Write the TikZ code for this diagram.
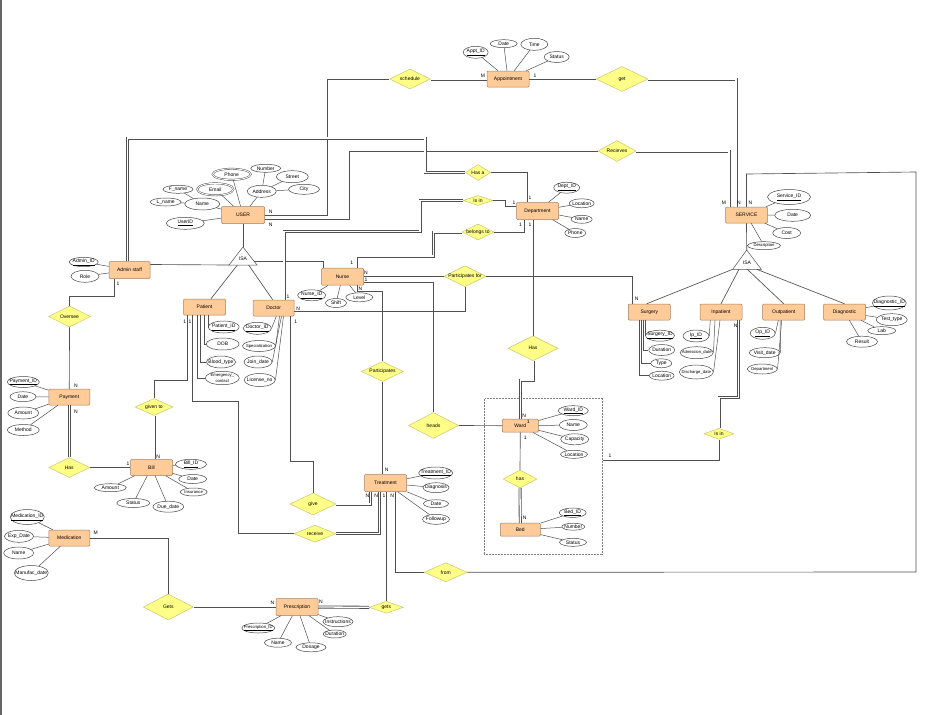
\documentclass[tikz,border=0pt]{standalone}
\usepackage{fontspec}
\setmainfont{Liberation Sans}
\usetikzlibrary{shapes.geometric,calc}
\definecolor{entfill}{RGB}{255,204,153}
\definecolor{entline}{RGB}{170,125,90}
\definecolor{relfill}{RGB}{255,255,136}
\definecolor{relline}{RGB}{200,200,110}
\definecolor{attline}{RGB}{70,70,70}
\definecolor{lnc}{RGB}{80,80,80}
\newcommand{\fs}{\fontsize{5}{6}\selectfont}
\newcommand{\fss}{\fontsize{4.2}{4.6}\selectfont}

\begin{document}
\begin{tikzpicture}[x=1pt,y=-1pt,
    zw/.style={execute at begin node={\hbox to 0pt\bgroup\hss}, execute at end node={\hss\egroup}},
    ent/.style={draw=entline,fill=entfill,rounded corners=1pt,line width=0.5pt,minimum width=42,minimum height=16,inner sep=0,font=\fs,zw},
    rel/.style 2 args={diamond,draw=relline,fill=relfill,line width=0.5pt,minimum width=#1,minimum height=#2,inner sep=0,font=\fs,zw},
    att/.style 2 args={ellipse,draw=attline,fill=white,line width=0.5pt,minimum width=#1,minimum height=#2,inner sep=0,font=\fs,zw},
    mv/.style={double,double distance=0.9pt,line width=0.45pt},
    ln/.style={draw=lnc,line width=0.65pt},
    dl/.style={draw=lnc,line width=0.85pt,double=white,double distance=1.3pt},
    aln/.style={draw=lnc,line width=0.5pt},
    card/.style={font=\fs,inner sep=0}]
  \fill[white] (0,0) rectangle (935,715);
  \useasboundingbox (0,0) rectangle (935,715);
  \draw[gray!80!black,line width=1.2pt] (1,0) -- (1,715);

  \node[draw=gray,densely dotted,line width=0.5pt,minimum width=118.4,minimum height=156,inner sep=0] (wbox) at (543.5,476.3) {};

  \node[ent] (appt) at (508,79) {Appointment};
  \node[ent,minimum width=43,minimum height=17] (user) at (243,215) {USER};
  \node[ent,minimum height=17] (dept) at (537.5,211) {Department};
  \node[ent] (serv) at (746.5,215) {SERVICE};
  \node[ent,minimum width=41,minimum height=17] (admin) at (129.5,270) {Admin staff};
  \node[ent] (patient) at (204.5,307) {Patient};
  \node[ent,minimum width=41] (doctor) at (273.7,308) {Doctor};
  \node[ent,minimum height=17] (nurse) at (342.5,276.7) {Nurse};
  \node[ent] (surgery) at (649.3,312) {Surgery};
  \node[ent] (inpat) at (721,312) {Inpatient};
  \node[ent] (outpat) at (783.7,312) {Outpatient};
  \node[ent] (diag) at (844.5,312) {Diagnostic};
  \node[ent,minimum width=41] (payment) at (69.3,397) {Payment};
  \node[ent] (bill) at (151.5,467.5) {Bill};
  \node[ent,minimum width=36,minimum height=13] (ward) at (520.3,425.7) {Ward};
  \node[ent,minimum width=40,minimum height=13] (bed) at (520.3,529.7) {Bed};
  \node[ent,minimum height=17] (treat) at (385.5,483) {Treatment};
  \node[ent,minimum width=41] (medic) at (69.3,538) {Medication};
  \node[ent,minimum height=17] (presc) at (297,607) {Prescription};

  \node[rel={41}{20}] (sched) at (410,79) {schedule};
  \node[rel={52}{25}] (get) at (622,79) {get};
  \node[rel={38}{21}] (recv) at (617,151) {Recieves};
  \node[rel={25}{16}] (hasa) at (478,172.5) {Has a};
  \node[rel={30}{10}] (isin1) at (478,200.5) {Is in};
  \node[rel={32}{16}] (belong) at (478,232) {belongs to};
  \node[rel={42}{21}] (partfor) at (465,276.3) {Participates for};
  \node[rel={50}{25}] (hasw) at (533,348.3) {Has};
  \node[rel={42}{20}] (part) at (382.5,371.5) {Participates};
  \node[rel={50}{26}] (heads) at (433.5,425.5) {heads};
  \node[rel={34}{18}] (hasb) at (520,479) {has};
  \node[rel={30}{11}] (isin2) at (719,433.8) {Is in};
  \node[rel={42}{21}] (oversee) at (69.5,316.5) {Oversee};
  \node[rel={38}{17}] (given) at (154,407) {given to};
  \node[rel={41}{20}] (hasp) at (69.3,467.5) {Has};
  \node[rel={46}{22}] (give) at (313,504) {give};
  \node[rel={42}{17}] (receive) at (315,533.7) {receive};
  \node[rel={43}{19}] (from) at (445.7,572.3) {from};
  \node[rel={34}{12}] (gets2) at (386.3,607.3) {gets};
  \node[rel={50}{26}] (gets1) at (168.3,607) {Gets};

  \coordinate (isa1a) at (243,247);
  \coordinate (isa1b) at (257,265);
  \coordinate (isa1c) at (229,265);
  \draw[aln,fill=white] (isa1a) -- (isa1b) -- (isa1c) -- cycle;
  \node[font=\fs,inner sep=0] (isa1) at (243,259) {ISA};
  \coordinate (isa2a) at (746.7,250);
  \coordinate (isa2b) at (761.3,269.3);
  \coordinate (isa2c) at (732.7,269.3);
  \draw[aln,fill=white] (isa2a) -- (isa2b) -- (isa2c) -- cycle;
  \node[font=\fs,inner sep=0] (isa2) at (747,263) {ISA};

  \node[att={38}{11},mv] (phone) at (231.7,174.3) {Phone};
  \node[att={36}{12},mv] (email) at (215.3,189.3) {Email};
  \node[att={30}{8}] (number) at (265.7,168.3) {Number};
  \node[att={32}{12}] (street) at (292.3,176.7) {Street};
  \node[att={29}{12}] (address) at (261.7,191.3) {Address};
  \node[att={31}{10}] (city) at (304,189.3) {City};
  \node[att={30}{8}] (fname) at (178,189.3) {F\_name};
  \node[att={31}{8}] (lname) at (165.7,202) {L\_name};
  \node[att={35}{12}] (uname) at (202.3,204) {Name};
  \node[att={38}{12}] (userid) at (185.3,223.3) {\underline{UserID}};

  \node[att={25}{12}] (apptid) at (475.7,52.3) {\underline{Appt\_ID}};
  \node[att={27}{8}] (adate) at (503.7,43.7) {Date};
  \node[att={27}{12}] (atime) at (534.3,44.3) {Time};
  \node[att={25}{11}] (astatus) at (556.7,57) {Status};

  \node[att={26}{11}] (deptid) at (566.7,187.7) {\underline{Dept\_ID}};
  \node[att={25}{9}] (dloc) at (581.7,203.3) {Location};
  \node[att={21}{8}] (dname) at (581.7,219.3) {Name};
  \node[att={21}{9}] (dphone) at (575.3,233) {Phone};

  \node[att={43}{15}] (servid) at (789,197) {\underline{Service\_ID}};
  \node[att={36}{12}] (sdate) at (792.7,215.3) {Date};
  \node[att={28}{11}] (scost) at (786.7,233) {Cost};
  \node[att={33}{8},font=\fss] (sdesc) at (764,245.7) {Description};

  \node[att={29}{9}] (adminid) at (83.7,262) {\underline{Admin\_ID}};
  \node[att={28}{12}] (role) at (85,276.3) {Role};

  \node[att={31}{12}] (patid) at (223.7,327) {\underline{Patient\_ID}};
  \node[att={33}{12}] (dob) at (222.7,344) {DOB};
  \node[att={29}{12}] (blood) at (221,362) {Blood\_type};
  \node[att={34}{12},font=\fss] (emerg) at (222.3,378) {\shortstack{Emergency\_\\contact}};

  \node[att={28}{12}] (docid) at (257.3,328.3) {\underline{Doctor\_ID}};
  \node[att={33}{11},font=\fss] (spec) at (259,346) {Specialization};
  \node[att={28}{12}] (jdate) at (258,362) {Join\_date};
  \node[att={31}{13}] (lic) at (259.7,380) {License\_no};

  \node[att={28}{11}] (nurseid) at (311.7,295.3) {\underline{Nurse\_ID}};
  \node[att={21}{9}] (shift) at (336,303) {Shift};
  \node[att={27}{9}] (level) at (359.3,297.3) {Level};

  \node[att={29}{11}] (surgid) at (660,335.7) {\underline{Surgery\_ID}};
  \node[att={26}{11}] (dur) at (661.7,350) {Duration};
  \node[att={21}{9}] (stype) at (661.3,363.3) {Type};
  \node[att={25}{9}] (sloc) at (661.7,375.7) {Location};

  \node[att={26}{12}] (ipid) at (696,336) {\underline{Ip\_ID}};
  \node[att={33}{12},font=\fss] (adm) at (696.7,352.7) {Admission\_date};
  \node[att={34}{14},font=\fss] (dis) at (696.3,372) {Discharge\_date};

  \node[att={25}{12}] (opid) at (762.7,333.3) {\underline{Op\_ID}};
  \node[att={31}{10}] (visit) at (764.7,352.7) {Visit\_date};
  \node[att={30}{10},font=\fss] (odept) at (762.3,369) {Department};

  \node[att={34}{14}] (diagid) at (889.3,303) {\underline{Diagnostic\_ID}};
  \node[att={31}{12}] (ttype) at (891.7,319.7) {Test\_type};
  \node[att={28}{8}] (lab) at (881.7,330.7) {Lab};
  \node[att={31}{11}] (result) at (862,341.7) {Result};

  \node[att={32}{11}] (payid) at (23.3,382) {\underline{Payment\_ID}};
  \node[att={26}{10}] (pdate) at (23,396.7) {Date};
  \node[att={31}{12}] (pamount) at (23.3,413) {Amount};
  \node[att={32}{11}] (pmethod) at (23.3,430) {Method};

  \node[att={31}{10}] (billid) at (191,464.3) {\underline{Bill\_ID}};
  \node[att={28}{9}] (bdate) at (192.7,479) {Date};
  \node[att={27}{8},font=\fss] (binsur) at (193.7,492) {Insurance};
  \node[att={32}{8}] (bamount) at (110.3,487.7) {Amount};
  \node[att={33}{9}] (bstatus) at (133.3,503) {Status};
  \node[att={31}{11}] (bdue) at (168.3,506.7) {Due\_date};

  \node[att={30}{10}] (wardid) at (573.3,410.7) {\underline{Ward\_ID}};
  \node[att={28}{11}] (wname) at (573.3,425) {Name};
  \node[att={28}{11}] (wcap) at (574.7,439.3) {Capacity};
  \node[att={27}{8}] (wloc) at (574,454.3) {Location};

  \node[att={27}{8}] (bedid) at (572.7,512.7) {\underline{Bed\_ID}};
  \node[att={23}{7}] (bnum) at (573.3,526.7) {Number};
  \node[att={27}{8}] (bedst) at (573,542.3) {Status};

  \node[att={34}{12}] (treatid) at (435.7,473) {\underline{Treatment\_ID}};
  \node[att={26}{10}] (tdiag) at (436,487.7) {Diagnosis};
  \node[att={25}{8}] (tdate) at (436,503.7) {Date};
  \node[att={27}{10}] (tfollow) at (436,519.3) {Followup};

  \node[att={34}{15}] (medid) at (27.3,517) {\underline{Medication\_ID}};
  \node[att={29}{12}] (mexp) at (19,536.3) {Exp\_Date};
  \node[att={30}{12}] (mname) at (18.7,553) {Name};
  \node[att={34}{15}] (mmanu) at (31.3,573) {Manufac\_date};

  \node[att={33}{10},font=\fss] (prescid) at (258.3,628) {\underline{Prescription\_ID}};
  \node[att={27}{9}] (pname) at (278,642.7) {Name};
  \node[att={30}{9}] (pdose) at (311,647.3) {Dosage};
  \node[att={30}{10}] (pinst) at (338,621.7) {Instructions};
  \node[att={23}{8}] (pdur) at (334.7,634) {Duration};

  \draw[aln] (phone) -- (user);
  \draw[aln] (email) -- (user);
  \draw[aln] (address) -- (user);
  \draw[aln] (number) -- (address);
  \draw[aln] (street) -- (address);
  \draw[aln] (city) -- (address);
  \draw[aln] (fname) -- (uname);
  \draw[aln] (lname) -- (uname);
  \draw[aln] (uname) -- (user);
  \draw[aln] (userid) -- (user);
  \draw[aln] (apptid) -- (appt);
  \draw[aln] (adate) -- (appt);
  \draw[aln] (atime) -- (appt);
  \draw[aln] (astatus) -- (appt);
  \draw[aln] (deptid) -- (dept);
  \draw[aln] (dloc) -- (dept);
  \draw[aln] (dname) -- (dept);
  \draw[aln] (dphone) -- (dept);
  \draw[aln] (servid) -- (serv);
  \draw[aln] (sdate) -- (serv);
  \draw[aln] (scost) -- (serv);
  \draw[aln] (sdesc) -- (serv);
  \draw[aln] (adminid) -- (admin);
  \draw[aln] (role) -- (admin);
  \draw[aln] (patient.south -| 208.3,0) |- (patid.west);
  \draw[aln] (patient.south -| 204,0) |- (dob.west);
  \draw[aln] (patient.south -| 200.5,0) |- (blood.west);
  \draw[aln] (patient.south -| 197.5,0) |- (emerg.west);
  \draw[aln] (doctor.south -| 276.3,0) -- (docid.east);
  \draw[aln] (doctor.south -| 279.5,0) -- (spec.east);
  \draw[aln] (doctor.south -| 281.5,0) -- (jdate.east);
  \draw[aln] (doctor.south -| 283.5,0) -- (lic.east);
  \draw[aln] (nurseid) -- (nurse);
  \draw[aln] (shift) -- (nurse);
  \draw[aln] (level) -- (nurse);
  \draw[aln] (surgery.south -| 645,0) |- (surgid.west);
  \draw[aln] (surgery.south -| 643,0) |- (dur.west);
  \draw[aln] (surgery.south -| 641,0) |- (stype.west);
  \draw[aln] (surgery.south -| 639,0) |- (sloc.west);
  \draw[aln] (inpat.south -| 710.3,0) -- (ipid.east);
  \draw[aln] (inpat.south -| 715,0) -- (adm.east);
  \draw[aln] (inpat.south -| 720,0) -- (dis.east);
  \draw[aln] (outpat.south -| 778.3,0) -- (opid.east);
  \draw[aln] (outpat.south -| 780,0) -- (visit.east);
  \draw[aln] (outpat.south -| 781.7,0) -- (odept.east);
  \draw[aln] (diagid) -- (diag);
  \draw[aln] (ttype) -- (diag);
  \draw[aln] (lab) -- (diag);
  \draw[aln] (result) -- (diag);
  \draw[aln] (payid) -- (payment);
  \draw[aln] (pdate) -- (payment);
  \draw[aln] (pamount) -- (payment);
  \draw[aln] (pmethod) -- (payment);
  \draw[aln] (billid) -- (bill);
  \draw[aln] (bdate) -- (bill);
  \draw[aln] (binsur) -- (bill);
  \draw[aln] (bamount) -- (bill);
  \draw[aln] (bstatus) -- (bill);
  \draw[aln] (bdue) -- (bill);
  \draw[aln] (wardid) -- (ward);
  \draw[aln] (wname) -- (ward);
  \draw[aln] (wcap) -- (ward);
  \draw[aln] (wloc) -- (ward);
  \draw[aln] (bedid) -- (bed);
  \draw[aln] (bnum) -- (bed);
  \draw[aln] (bedst) -- (bed);
  \draw[aln] (treatid) -- (treat);
  \draw[aln] (tdiag) -- (treat);
  \draw[aln] (tdate) -- (treat);
  \draw[aln] (tfollow) -- (treat);
  \draw[aln] (medid) -- (medic);
  \draw[aln] (mexp) -- (medic);
  \draw[aln] (mname) -- (medic);
  \draw[aln] (mmanu) -- (medic);
  \draw[aln] (prescid) -- (presc);
  \draw[aln] (pname) -- (presc);
  \draw[aln] (pdose) -- (presc);
  \draw[aln] (pinst) -- (presc);
  \draw[aln] (pdur) -- (presc);

  \draw[ln] (user.south) -- (isa1a);
  \draw[ln] ($(isa1c)!0.3!(isa1b)$) -- (patient.north -| 211,0);
  \draw[ln] ($(isa1c)!0.7!(isa1b)$) -- (doctor.north -| 272.7,0);
  \draw[ln] (admin.east |- 0,264.5) -- (isa1c);
  \draw[ln] ($(isa1a)!0.78!(isa1b)$) -| (nurse.north west -| 323,0);
  \draw[ln] (serv.south) -- (isa2a);
  \draw[ln] (isa2c) -- (surgery.north -| 646.7,0);
  \draw[ln] ($(isa2c)!0.22!(isa2b)$) -- (inpat.north);
  \draw[ln] ($(isa2c)!0.51!(isa2b)$) -- (outpat.north);
  \draw[ln] ($(isa2c)!0.84!(isa2b)$) -- (diag.north);

  \draw[ln] (user.east) -| (327,79) -- (sched.west);
  \draw[dl] (sched.east) -- (appt.west);
  \draw[ln] (appt.east) -- (get.west);
  \draw[dl] (get.east) -| (serv.north -| 736,0);
  \draw[ln] (user.east |- 0,219.5) -| (349,151) -- (recv.west);
  \draw[dl] (recv.east) -| (serv.north -| 729,0);
  \draw[ln] (serv.north) -- (746.5,174) -- (916,172) -- (916,572) -- (from.east);
  \draw[ln] (from.west) -| (treat.south -| 395,0);
  \draw[dl] (admin.north -| 127.5,0) |- (425,138) |- (hasa.west);
  \draw[ln] (hasa.east) -| (dept.north -| 527,0);
  \draw[dl] (doctor.north -| 284,0) |- (420,231.7) |- (isin1.west);
  \draw[ln] (isin1.east) -| (505.7,206) -- (dept.west |- 0,206);
  \draw[dl] (nurse.north -| 356,0) |- (433.5,256) |- (belong.west);
  \draw[ln] (belong.east) -| (dept.south -| 524,0);
  \draw[ln] (dept.south -| 533,0) -- (hasw.north);
  \draw[dl] (hasw.south) |- (ward.north |- 0,380) -- (ward.north);
  \draw[ln] (nurse.east |- 0,276.3) -- (partfor.west);
  \draw[ln] (partfor.east) -| (surgery.north -| 632.7,0);
  \draw[ln] (partfor.south) |- (doctor.east |- 0,311.7);
  \draw[ln] (nurse.east |- 0,282.3) -| (heads.north);
  \draw[ln] (heads.east) -- (ward.west);
  \draw[ln] (nurse.south -| 357.7,0) |- (part.north |- 0,291.7) -- (part.north);
  \draw[ln] (part.south) -- (part.south |- treat.north);
  \draw[ln] (doctor.south -| 290.7,0) |- (give.north |- 0,461.7) -- (give.north);
  \draw[dl] (give.east) -| (treat.south -| 370.7,0);
  \draw[dl] (receive.east) -| (treat.south -| 379.3,0);
  \draw[ln] (patient.south -| 187.7,0) |- (given.north |- 0,380) -- (given.north);
  \draw[ln] (patient.south -| 192.3,0) |- (238.7,401.7) |- (receive.west);
  \draw[dl] (given.south) -- (given.south |- bill.north);
  \draw[ln] (admin.south -| 114,0) |- (oversee.north |- 0,296) -- (oversee.north);
  \draw[ln] (oversee.south) -- (payment.north);
  \draw[dl] (payment.south) -- (hasp.north);
  \draw[ln] (hasp.east) -- (bill.west);
  \draw[ln] (medic.east) -| (gets1.north);
  \draw[ln] (gets1.east) -- (presc.west);
  \draw[dl] (presc.east) -- (gets2.west);
  \draw[ln] (gets2.north) -- (gets2.north |- treat.south);
  \draw[dl] (inpat.south -| 738.7,0) |- (isin2.north |- 0,397.5) -- (isin2.north);
  \draw[ln] (isin2.south) |- (wbox.east |- 0,460.7);
  \draw[ln] (ward.south) -- (hasb.north);
  \draw[dl] (hasb.south) -- (bed.north);

  \node[card] (c1) at (270.7,211.3) {N};
  \node[card] (c2) at (270.7,224.3) {N};
  \node[card] (c3) at (483,75.5) {M};
  \node[card] (c4) at (535,75.5) {1};
  \node[card] (c5) at (724,202.7) {M};
  \node[card] (c6) at (739,202.7) {N};
  \node[card] (c7) at (750.5,202.7) {N};
  \node[card] (c8) at (530,197.3) {1};
  \node[card] (c9) at (514,202.7) {1};
  \node[card] (c10) at (520.5,224.3) {1};
  \node[card] (c11) at (530,224.3) {1};
  \node[card] (c12) at (524.3,415.7) {N};
  \node[card] (c13) at (528.3,421.7) {1};
  \node[card] (c14) at (288,296.7) {1};
  \node[card] (c15) at (351.7,262.7) {1};
  \node[card] (c16) at (366,273) {N};
  \node[card] (c17) at (366,279.3) {1};
  \node[card] (c18) at (360.5,288.3) {N};
  \node[card] (c19) at (636.7,298.7) {N};
  \node[card] (c20) at (298.3,309) {N};
  \node[card] (c21) at (295.7,321.7) {1};
  \node[card] (c22) at (386.7,470) {N};
  \node[card] (c23) at (367.5,496) {N};
  \node[card] (c24) at (376.3,496) {N};
  \node[card] (c25) at (384,496) {1};
  \node[card] (c26) at (392.3,496) {N};
  \node[card] (c27) at (184.8,321.7) {1};
  \node[card] (c28) at (190,321.7) {1};
  \node[card] (c29) at (158.3,456.3) {N};
  \node[card] (c30) at (118,283.7) {1};
  \node[card] (c31) at (76,385.3) {N};
  \node[card] (c32) at (76,411.7) {N};
  \node[card] (c33) at (128,464) {1};
  \node[card] (c34) at (95.7,532.3) {M};
  \node[card] (c35) at (272.5,603) {N};
  \node[card] (c36) at (321,601.7) {N};
  \node[card] (c37) at (735.7,325.3) {N};
  \node[card] (c38) at (610,455.7) {1};
  \node[card] (c39) at (525.3,437.3) {1};
  \node[card] (c40) at (524.7,517.3) {N};
\end{tikzpicture}
\end{document}
